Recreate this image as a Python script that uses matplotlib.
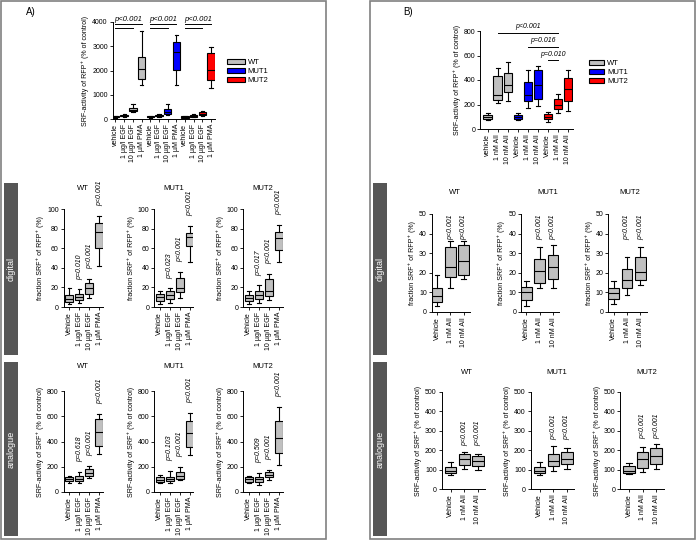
import matplotlib
matplotlib.use('Agg')
import matplotlib.pyplot as plt
from matplotlib.patches import Patch, Rectangle

plt.rcParams['font.family'] = ['Liberation Sans', 'DejaVu Sans']

W, H = 697, 540  # figure size in pixels

# each box is [lower whisker, q1, median, q3, upper whisker]
lines = ['WT', 'MUT1', 'MUT2']
line_colors = ['#c0c0c0', '#0000ff', '#ff0000']

# panel A, top: SRF-activity of RFP+ cells
a_top_labels = ['vehicle', '1 µg/l EGF', '10 µg/l EGF', '1 µM PMA'] * 3
a_top = [[60, 80, 100, 120, 130], [90, 110, 140, 170, 190], [280, 320, 380, 440, 600], [1400, 1650, 2080, 2570, 3620],
         [50, 70, 90, 110, 130], [90, 110, 140, 170, 190], [180, 220, 280, 420, 600], [1400, 2030, 2750, 3180, 3460],
         [30, 50, 80, 110, 130], [80, 100, 130, 160, 190], [120, 160, 220, 300, 350], [1270, 1600, 2010, 2720, 2960]]

# panel A, digital: fraction SRF+ of RFP+ (%)
a_labels = ['Vehicle', '1 µg/l EGF', '10 µg/l EGF', '1 µM PMA']
a_dig_wt = [[3, 5, 8, 12, 19], [4, 7, 10, 13, 18], [9, 13, 19, 25, 29], [42, 60, 77, 86, 93]]
a_dig_mut1 = [[3, 6, 10, 13, 16], [4, 8, 12, 16, 19], [9, 15, 19, 30, 36], [46, 62, 71, 76, 83]]
a_dig_mut2 = [[3, 6, 9, 12, 16], [4, 8, 12, 16, 22], [7, 11, 16, 29, 34], [46, 58, 70, 77, 84]]
a_dig_p = [['p=0.010', 'p<0.001', 'p<0.001'],
           ['p=0.023', 'p<0.001', 'p<0.001'],
           ['p=0.017', 'p<0.001', 'p<0.001']]

# panel A, analogue: SRF-activity of SRF+ cells
a_ana_wt = [[70, 85, 100, 115, 130], [70, 85, 105, 125, 160], [110, 125, 150, 185, 205], [300, 365, 475, 580, 615]]
a_ana_mut1 = [[70, 80, 95, 115, 135], [75, 85, 105, 120, 165], [95, 105, 130, 155, 195], [290, 355, 470, 560, 625]]
a_ana_mut2 = [[70, 80, 100, 115, 130], [55, 80, 100, 115, 150], [95, 115, 135, 160, 175], [215, 310, 430, 565, 675]]
a_ana_p = [['p=0.618', 'p<0.001', 'p<0.001'],
           ['p=0.103', 'p<0.001', 'p<0.001'],
           ['p=0.509', 'p<0.001', 'p<0.001']]

# panel B, top
b_top_labels = ['vehicle', '1 nM AII', '10 nM AII', 'Vehicle', '1 nM AII', '10 nM AII',
                'Vehicle', '1 nM AII', '10 nM AII']
b_top = [[75, 85, 100, 115, 130], [210, 240, 280, 430, 500], [230, 300, 360, 460, 545],
         [75, 85, 100, 115, 130], [170, 230, 280, 380, 480], [190, 245, 360, 480, 515],
         [55, 80, 100, 120, 140], [130, 165, 195, 245, 285], [150, 230, 330, 415, 485]]
b_top_sig = [(2, 8, 'p<0.001'), (5, 8, 'p=0.016'), (7, 8, 'p=0.010')]

# panel B, digital and analogue
b_labels = ['Vehicle', '1 nM AII', '10 nM AII']
b_dig_wt = [[3, 5, 8, 12, 19], [12, 18, 23, 33, 36], [17, 19, 26, 34, 36]]
b_dig_mut1 = [[3, 6, 10, 13, 16], [12, 15, 21, 27, 33], [12, 17, 23, 29, 34]]
b_dig_mut2 = [[4, 6.5, 9.5, 12.5, 16], [8.5, 12.5, 16.5, 22, 28], [14, 16.5, 20.5, 28, 33]]
b_ana_wt = [[70, 85, 95, 115, 140], [105, 125, 155, 180, 190], [100, 120, 145, 170, 180]]
b_ana_mut1 = [[70, 80, 95, 115, 140], [95, 120, 145, 180, 220], [105, 130, 155, 190, 210]]
b_ana_mut2 = [[75, 80, 95, 120, 135], [90, 110, 155, 190, 215], [105, 130, 170, 210, 230]]
b_p = ['p<0.001', 'p<0.001']


def px_axes(fig, left, right, bottom, top):
    """Axes placed by pixel edges (y counted from the top of the figure)."""
    return fig.add_axes([left / W, 1 - bottom / H, (right - left) / W, (bottom - top) / H])


def px_rect(fig, left, top, right, bottom, **kw):
    r = Rectangle((left / W, 1 - bottom / H), (right - left) / W, (bottom - top) / H,
                  transform=fig.transFigure, **kw)
    fig.add_artist(r)


def draw_boxes(ax, rows, colors, width):
    stats = [dict(whislo=r[0], q1=r[1], med=r[2], q3=r[3], whishi=r[4]) for r in rows]
    pos = list(range(1, len(rows) + 1))
    lw = 0.8
    art = ax.bxp(stats, positions=pos, widths=width, capwidths=width * 0.45,
                 showfliers=False, patch_artist=True,
                 boxprops=dict(edgecolor='black', linewidth=lw),
                 medianprops=dict(color='black', linewidth=lw),
                 whiskerprops=dict(color='black', linewidth=lw),
                 capprops=dict(color='black', linewidth=lw))
    for box, c in zip(art['boxes'], colors):
        box.set_facecolor(c)
    return pos


def style(ax, pos, labels, ymax, ystep, ylabel, xlim):
    ax.set_xlim(*xlim)
    ax.set_ylim(0, ymax)
    ax.set_yticks([ystep * i for i in range(int(round(ymax / ystep)) + 1)])
    ax.set_xticks(pos)
    ax.set_xticklabels(labels, rotation=90)
    ax.tick_params(labelsize=5, length=2, width=0.6, pad=1.5)
    for s in ['top', 'right']:
        ax.spines[s].set_visible(False)
    for s in ['left', 'bottom']:
        ax.spines[s].set_linewidth(0.7)
    ax.set_ylabel(ylabel, fontsize=5, labelpad=2)


fig = plt.figure(figsize=(W / 100, H / 100), dpi=100)

# outer frames and grey row bands
px_rect(fig, 1, 1, 326, 539, fill=False, edgecolor='#808080', linewidth=1.2)
px_rect(fig, 370, 1, 695, 539, fill=False, edgecolor='#808080', linewidth=1.2)
for x0 in [4, 373]:
    for (y0, y1, name) in [(183, 355, 'digital'), (362, 536, 'analogue')]:
        px_rect(fig, x0, y0, x0 + 13.5, y1, facecolor='#565656', edgecolor='none')
        fig.text((x0 + 6.75) / W, 1 - (y0 + y1) / 2 / H, name, color='white', rotation=90,
                 ha='center', va='center', fontsize=6.5)

fig.text(31 / W, 1 - 12 / H, 'A)', fontsize=7, ha='center', va='center')
fig.text(408 / W, 1 - 12 / H, 'B)', fontsize=7, ha='center', va='center')

rfp_label = 'SRF-activity of RFP⁺ (% of control)'
srf_label = 'SRF-activity of SRF⁺ (% of control)'
frac_label = 'fraction SRF⁺ of RFP⁺ (%)'

# ---- A top ----
ax = px_axes(fig, 112.7, 215, 119, 22)
cols = [c for c in line_colors for _ in range(4)]
pos = draw_boxes(ax, a_top, cols, 0.85)
style(ax, pos, a_top_labels, 4000, 1000, rfp_label, (0.68, 12.46))
for g in range(3):
    p0 = 1 + 4 * g
    ax.plot([p0, p0 + 3], [3920, 3920], color='black', lw=0.7, clip_on=False)
    ax.plot([p0, p0 + 2], [3750, 3750], color='black', lw=0.7, clip_on=False)
    ax.text(p0 + 1.5, 3960, 'p<0.001', style='italic', fontsize=5.5, ha='center', va='bottom')

handles = [Patch(facecolor=c, edgecolor='black', linewidth=0.8) for c in line_colors]
fig.legend(handles, lines, loc='upper left', bbox_to_anchor=(227 / W, 1 - 59 / H), frameon=False,
           fontsize=5.5, handlelength=2.3, handleheight=0.6, labelspacing=0.25,
           handletextpad=0.4, borderpad=0, borderaxespad=0)

# ---- B top ----
ax = px_axes(fig, 480, 573, 129, 31)
cols = [c for c in line_colors for _ in range(3)]
pos = draw_boxes(ax, b_top, cols, 0.85)
style(ax, pos, b_top_labels, 800, 200, rfp_label, (0.23, 9.5))
for i, (p0, p1, txt) in enumerate(b_top_sig):
    y = 786 - 113 * i
    ax.plot([p0, p1], [y, y], color='black', lw=0.7, clip_on=False)
    ax.text((p0 + p1) / 2, y + 22, txt, style='italic', fontsize=5, ha='center', va='bottom')
fig.legend(handles, lines, loc='upper left', bbox_to_anchor=(589 / W, 1 - 60 / H), frameon=False,
           fontsize=5.5, handlelength=1.9, handleheight=0.6, labelspacing=0.25,
           handletextpad=0.5, borderpad=0, borderaxespad=0)

# ---- A small plots ----
a_left = [63.5, 154, 243]
a_rows = [([a_dig_wt, a_dig_mut1, a_dig_mut2], a_dig_p, 307, 209, 100, 20, frac_label, 188),
          ([a_ana_wt, a_ana_mut1, a_ana_mut2], a_ana_p, 492, 391, 800, 200, srf_label, 367)]
for data, pvals, yb, yt, ymax, ystep, ylab, title_y in a_rows:
    for i, rows in enumerate(data):
        ax = px_axes(fig, a_left[i], a_left[i] + 39.5, yb, yt)
        pos = draw_boxes(ax, rows, ['#c0c0c0'] * 4, 0.8)
        style(ax, pos, a_labels, ymax, ystep, ylab, (0.42, 4.37))
        for j, p in enumerate(pvals[i]):
            ax.text(j + 2, rows[j + 1][4] + 0.1 * ymax, p, rotation=90, style='italic',
                    fontsize=5, ha='center', va='bottom', clip_on=False)
        fig.text((a_left[i] + 19.75) / W, 1 - title_y / H, lines[i], fontsize=5.5,
                 ha='center', va='center')

# ---- B small plots ----
b_dig_left = [431.7, 521, 608.3]
b_ana_left = [441.7, 530.7, 620]
for i, rows in enumerate([b_dig_wt, b_dig_mut1, b_dig_mut2]):
    ax = px_axes(fig, b_dig_left[i], b_dig_left[i] + 38.3, 312, 214)
    pos = draw_boxes(ax, rows, ['#c0c0c0'] * 3, 0.8)
    style(ax, pos, b_labels, 50, 10, frac_label, (0.6, 3.46))
    for j, p in enumerate(b_p):
        ax.text(j + 2, 50, p, rotation=90, style='italic', fontsize=5,
                ha='center', va='top', clip_on=False)
    fig.text([455, 548, 630][i] / W, 1 - 193 / H, lines[i], fontsize=5.5, ha='center', va='center')

for i, rows in enumerate([b_ana_wt, b_ana_mut1, b_ana_mut2]):
    ax = px_axes(fig, b_ana_left[i], b_ana_left[i] + 43.7, 489, 392)
    pos = draw_boxes(ax, rows, ['#c0c0c0'] * 3, 0.85)
    style(ax, pos, b_labels, 500, 100, srf_label, (0.34, 3.55))
    top = max(r[4] for r in rows[1:])
    for j, p in enumerate(b_p):
        ax.text(j + 2, top + 30, p, rotation=90, style='italic', fontsize=5,
                ha='center', va='bottom', clip_on=False)
    fig.text([467, 557, 647][i] / W, 1 - 372 / H, lines[i], fontsize=5.5, ha='center', va='center')

fig.savefig('out.png', dpi=100)
